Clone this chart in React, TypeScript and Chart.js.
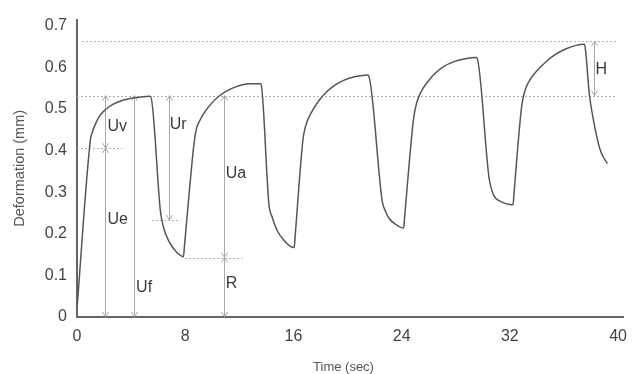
import React, { useEffect, useRef } from 'react';
import { Chart, registerables } from 'chart.js';

Chart.register(...registerables);

// Curve data (time in sec, deformation in mm)
const timeSec = [
  0, 1.0, 1.12, 1.31, 1.68, 2.16, 2.65, 3.38, 4.23, 5.35,
  5.45, 6.17, 6.41, 6.78, 7.27, 7.87,
  7.95, 8.67, 8.84, 9.09, 9.45, 9.93, 10.42, 11.15, 11.88, 12.73, 13.53,
  13.6, 14.19, 14.43, 14.8, 15.28, 15.77, 16.06,
  16.13, 16.7, 16.87, 17.1, 17.47, 17.95, 18.44, 19.1, 19.8, 20.6, 21.48,
  21.55, 22.57, 22.81, 23.05, 23.54, 24.15,
  24.22, 24.85, 25.0, 25.25, 25.6, 26.0, 26.42, 27.1, 27.88, 28.7, 29.5,
  29.57, 30.47, 30.79, 31.32, 32.24,
  32.3, 32.85, 33.0, 33.2, 33.5, 34.0, 34.72, 35.4, 36.17, 36.9, 37.45,
  37.52, 37.88, 38.36, 38.73, 39.21,
];
const deformationMm = [
  0.021, 0.428, 0.443, 0.46, 0.484, 0.5, 0.511, 0.521, 0.527, 0.531,
  0.53, 0.254, 0.214, 0.183, 0.159, 0.145,
  0.173, 0.422, 0.454, 0.473, 0.493, 0.513, 0.529, 0.545, 0.555, 0.561, 0.561,
  0.56, 0.271, 0.24, 0.208, 0.185, 0.17, 0.167,
  0.195, 0.425, 0.455, 0.477, 0.5, 0.523, 0.541, 0.558, 0.57, 0.578, 0.582,
  0.581, 0.278, 0.254, 0.238, 0.223, 0.214,
  0.24, 0.468, 0.5, 0.528, 0.551, 0.568, 0.584, 0.602, 0.614, 0.621, 0.624,
  0.623, 0.333, 0.294, 0.278, 0.27,
  0.294, 0.5, 0.53, 0.552, 0.571, 0.592, 0.615, 0.632, 0.645, 0.653, 0.656,
  0.655, 0.535, 0.444, 0.397, 0.369,
];

const xTickValues = [0, 8, 16, 24, 32, 40];
const xTickLabels = ['0', '8', '16', '24', '32', '40'];
const yTickValues = [0, 0.1, 0.2, 0.3, 0.4, 0.5, 0.6, 0.7];
const yTickLabels = ['0', '0.1', '0.2', '0.3', '0.4', '0.5', '0.6', '0.7'];

// Dotted guide lines: y value, x start, x end
const guideY = [0.663, 0.532, 0.406, 0.233, 0.143];
const guideX1 = [0.36, 0, 0, 5.54, 8.0];
const guideX2 = [39.9, 39.9, 3.35, 7.65, 12.24];

// Double-headed measurement arrows: x, top value, bottom value
const arrowX = [2.04, 2.04, 4.23, 6.78, 10.86, 10.86, 38.24];
const arrowTop = [0.532, 0.406, 0.532, 0.532, 0.532, 0.143, 0.663];
const arrowBottom = [0.406, 0, 0, 0.233, 0.143, 0, 0.532];

// Annotation labels
const labelText = ['Uv', 'Ue', 'Uf', 'Ur', 'Ua', 'R', 'H'];
const labelX = [2.26, 2.26, 4.37, 6.85, 11.0, 11.0, 38.34];
const labelY = [0.458, 0.235, 0.071, 0.463, 0.344, 0.081, 0.596];

const FONT = "'Liberation Sans', Arial, sans-serif";

const annotationPlugin = {
  id: 'creepAnnotations',
  beforeDatasetsDraw(chart: any) {
    const { ctx, scales } = chart;
    const xs = scales.x;
    const ys = scales.y;
    ctx.save();
    // dotted guides
    ctx.strokeStyle = '#b0b0b0';
    ctx.lineWidth = 1;
    ctx.setLineDash([2, 2]);
    for (let i = 0; i < guideY.length; i++) {
      const py = Math.round(ys.getPixelForValue(guideY[i])) + 0.5;
      ctx.beginPath();
      ctx.moveTo(xs.getPixelForValue(guideX1[i]), py);
      ctx.lineTo(xs.getPixelForValue(guideX2[i]), py);
      ctx.stroke();
    }
    ctx.setLineDash([]);
    // arrows
    ctx.strokeStyle = '#a8a8a8';
    ctx.lineWidth = 1;
    const hl = 5;
    const hw = 3;
    for (let i = 0; i < arrowX.length; i++) {
      const px = Math.round(xs.getPixelForValue(arrowX[i])) + 0.5;
      const pt = ys.getPixelForValue(arrowTop[i]);
      const pb = ys.getPixelForValue(arrowBottom[i]);
      ctx.beginPath();
      ctx.moveTo(px, pt);
      ctx.lineTo(px, pb);
      ctx.moveTo(px - hw, pt + hl);
      ctx.lineTo(px, pt);
      ctx.lineTo(px + hw, pt + hl);
      ctx.moveTo(px - hw, pb - hl);
      ctx.lineTo(px, pb);
      ctx.lineTo(px + hw, pb - hl);
      ctx.stroke();
    }
    ctx.restore();
  },
  afterDatasetsDraw(chart: any) {
    const { ctx, scales } = chart;
    const xs = scales.x;
    const ys = scales.y;
    ctx.save();
    ctx.fillStyle = '#3a3a3a';
    ctx.font = `16px ${FONT}`;
    ctx.textAlign = 'left';
    ctx.textBaseline = 'middle';
    for (let i = 0; i < labelText.length; i++) {
      ctx.fillText(labelText[i], xs.getPixelForValue(labelX[i]), ys.getPixelForValue(labelY[i]));
    }
    // x axis title
    ctx.fillStyle = '#555';
    ctx.font = `13px ${FONT}`;
    ctx.textAlign = 'center';
    ctx.fillText('Time (sec)', 343.5, 367);
    ctx.restore();
  },
};

export default function App() {
  const canvasRef = useRef<HTMLCanvasElement | null>(null);

  useEffect(() => {
    if (!canvasRef.current) return;
    const points = timeSec.map((t, i) => ({ x: t, y: deformationMm[i] }));
    const chart = new Chart(canvasRef.current, {
      type: 'line',
      data: {
        datasets: [
          {
            data: points,
            borderColor: '#555555',
            borderWidth: 1.5,
            pointRadius: 0,
            fill: false,
            cubicInterpolationMode: 'monotone',
          },
        ],
      },
      options: {
        animation: false,
        responsive: false,
        events: [],
        layout: { padding: { left: 0, right: 6, top: 16, bottom: 0 } },
        plugins: { legend: { display: false }, tooltip: { enabled: false } },
        scales: {
          x: {
            type: 'linear',
            min: 0,
            max: 40.4,
            afterBuildTicks: (axis: any) => {
              axis.ticks = xTickValues.map((v) => ({ value: v }));
            },
            afterFit: (axis: any) => {
              axis.height = 57;
            },
            grid: { display: false, drawTicks: false },
            border: { display: true, color: '#666', width: 2 },
            ticks: {
              padding: 10,
              color: '#444',
              font: { family: FONT, size: 16 },
              maxRotation: 0,
              callback: (v: any) => {
                const idx = xTickValues.indexOf(Number(v));
                return idx >= 0 ? xTickLabels[idx] : '';
              },
            },
          },
          y: {
            type: 'linear',
            min: 0,
            max: 0.715,
            afterBuildTicks: (axis: any) => {
              axis.ticks = yTickValues.map((v) => ({ value: v }));
            },
            afterFit: (axis: any) => {
              axis.width = 77;
            },
            grid: { display: false, drawTicks: false },
            border: { display: true, color: '#666', width: 2 },
            title: {
              display: true,
              text: 'Deformation (mm)',
              color: '#555',
              font: { family: FONT, size: 14.5 },
              padding: { top: 11, bottom: 0 },
            },
            ticks: {
              padding: 10,
              color: '#444',
              font: { family: FONT, size: 16 },
              callback: (v: any) => {
                const idx = yTickValues.findIndex((t) => Math.abs(t - Number(v)) < 1e-9);
                return idx >= 0 ? yTickLabels[idx] : '';
              },
            },
          },
        },
      },
      plugins: [annotationPlugin],
    });
    return () => chart.destroy();
  }, []);

  return (
    <div style={{ position: 'fixed', left: 0, top: 0, width: 637, height: 374, background: '#fff' }}>
      <canvas ref={canvasRef} width={637} height={374} style={{ display: 'block' }} />
    </div>
  );
}
